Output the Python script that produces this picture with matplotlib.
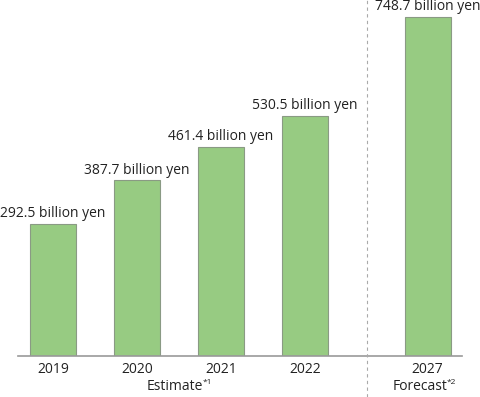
import matplotlib
matplotlib.use("Agg")
import matplotlib.pyplot as plt
from matplotlib.lines import Line2D

years = ["2019", "2020", "2021", "2022", "2027"]
values = [292.5, 387.7, 461.4, 530.5, 748.7]
labels = ["292.5 billion yen", "387.7 billion yen", "461.4 billion yen",
          "530.5 billion yen", "748.7 billion yen"]
positions = [0, 1, 2, 3, 4.46]

plt.rcParams['font.family'] = ['Open Sans', 'DejaVu Sans']

W, H = 481, 397
fig = plt.figure(figsize=(W / 100, H / 100), dpi=100)
base_px = 356
ax = fig.add_axes([0, (H - base_px) / H, 1, base_px / H])
ax.set_xlim(-53 / 84, (W - 53) / 84)
ax.set_ylim(0, 748.7 * base_px / 339)
ax.axis("off")

ax.bar(positions, values, width=46 / 84, color="#97CB82", edgecolor="#8a9a84", linewidth=0.8, zorder=2)
ax.plot([(18 - 53) / 84, (462 - 53) / 84], [0, 0], color="#999999", lw=1.2, zorder=3, clip_on=False)

for p, v, lab, yr in zip(positions, values, labels, years):
    ax.annotate(lab, (p, v), xytext=(0, 2), textcoords="offset points",
                ha="center", va="bottom", fontsize=10, color="#222222", annotation_clip=False)
    ax.annotate(yr, (p, 0), xytext=(0, -4), textcoords="offset points",
                ha="center", va="top", fontsize=10, color="#222222", annotation_clip=False)

# dashed separator
xd = 367 / W
fig.add_artist(Line2D([xd, xd], [0, 1], transform=fig.transFigure, color="#aaaaaa",
                      lw=0.8, linestyle=(0, (3, 3))))

# group labels
fig.text(175 / W, 1 - 386 / H, "Estimate", ha="center", va="center", fontsize=10, color="#222222")
fig.text(203 / W, 1 - 382 / H, "*1", ha="left", va="center", fontsize=6, color="#222222")
fig.text(420 / W, 1 - 386 / H, "Forecast", ha="center", va="center", fontsize=10, color="#222222")
fig.text(447 / W, 1 - 382 / H, "*2", ha="left", va="center", fontsize=6, color="#222222")

fig.savefig("out.png", dpi=100)
